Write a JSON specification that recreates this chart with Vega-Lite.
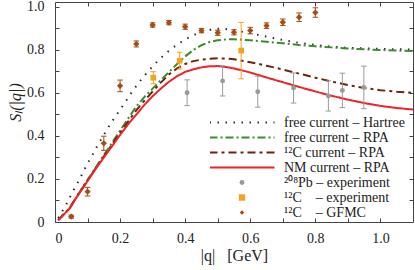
{
  "$schema": "https://vega.github.io/schema/vega-lite/v6.json",
  "width": 358,
  "height": 220,
  "autosize": {"type": "none"},
  "padding": {"left": 55, "top": 2, "right": 2, "bottom": 48},
  "background": "white",
  "config": {
    "view": {"stroke": "#444", "strokeWidth": 1},
    "axis": {
      "labelFont": "Liberation Serif", "labelFontSize": 14, "labelColor": "#222",
      "titleFont": "Liberation Serif", "titleFontSize": 16, "titleFontWeight": "normal", "titleColor": "#222",
      "domain": false, "grid": false, "tickColor": "#444", "tickSize": -4, "tickWidth": 1
    }
  },
  "datasets": {
    "lines": [
      {"series": "free current – Hartree", "q": 0.01, "S": 0.018},
      {"series": "free current – Hartree", "q": 0.02, "S": 0.045},
      {"series": "free current – Hartree", "q": 0.03, "S": 0.068},
      {"series": "free current – Hartree", "q": 0.04, "S": 0.097},
      {"series": "free current – Hartree", "q": 0.05, "S": 0.128},
      {"series": "free current – Hartree", "q": 0.06, "S": 0.156},
      {"series": "free current – Hartree", "q": 0.07, "S": 0.184},
      {"series": "free current – Hartree", "q": 0.08, "S": 0.213},
      {"series": "free current – Hartree", "q": 0.09, "S": 0.243},
      {"series": "free current – Hartree", "q": 0.10, "S": 0.272},
      {"series": "free current – Hartree", "q": 0.11, "S": 0.299},
      {"series": "free current – Hartree", "q": 0.12, "S": 0.325},
      {"series": "free current – Hartree", "q": 0.13, "S": 0.354},
      {"series": "free current – Hartree", "q": 0.14, "S": 0.38},
      {"series": "free current – Hartree", "q": 0.15, "S": 0.405},
      {"series": "free current – Hartree", "q": 0.16, "S": 0.43},
      {"series": "free current – Hartree", "q": 0.17, "S": 0.456},
      {"series": "free current – Hartree", "q": 0.18, "S": 0.478},
      {"series": "free current – Hartree", "q": 0.19, "S": 0.5},
      {"series": "free current – Hartree", "q": 0.20, "S": 0.522},
      {"series": "free current – Hartree", "q": 0.22, "S": 0.567},
      {"series": "free current – Hartree", "q": 0.24, "S": 0.613},
      {"series": "free current – Hartree", "q": 0.26, "S": 0.653},
      {"series": "free current – Hartree", "q": 0.28, "S": 0.69},
      {"series": "free current – Hartree", "q": 0.30, "S": 0.724},
      {"series": "free current – Hartree", "q": 0.32, "S": 0.755},
      {"series": "free current – Hartree", "q": 0.34, "S": 0.783},
      {"series": "free current – Hartree", "q": 0.36, "S": 0.808},
      {"series": "free current – Hartree", "q": 0.38, "S": 0.829},
      {"series": "free current – Hartree", "q": 0.40, "S": 0.849},
      {"series": "free current – Hartree", "q": 0.42, "S": 0.865},
      {"series": "free current – Hartree", "q": 0.44, "S": 0.878},
      {"series": "free current – Hartree", "q": 0.46, "S": 0.887},
      {"series": "free current – Hartree", "q": 0.48, "S": 0.895},
      {"series": "free current – Hartree", "q": 0.50, "S": 0.899},
      {"series": "free current – Hartree", "q": 0.52, "S": 0.898},
      {"series": "free current – Hartree", "q": 0.54, "S": 0.894},
      {"series": "free current – Hartree", "q": 0.57, "S": 0.886},
      {"series": "free current – Hartree", "q": 0.60, "S": 0.878},
      {"series": "free current – Hartree", "q": 0.64, "S": 0.865},
      {"series": "free current – Hartree", "q": 0.70, "S": 0.846},
      {"series": "free current – Hartree", "q": 0.75, "S": 0.833},
      {"series": "free current – Hartree", "q": 0.80, "S": 0.823},
      {"series": "free current – Hartree", "q": 0.85, "S": 0.815},
      {"series": "free current – Hartree", "q": 0.90, "S": 0.81},
      {"series": "free current – Hartree", "q": 0.95, "S": 0.807},
      {"series": "free current – Hartree", "q": 1.00, "S": 0.805},
      {"series": "free current – Hartree", "q": 1.05, "S": 0.803},
      {"series": "free current – Hartree", "q": 1.10, "S": 0.802},

      {"series": "free current – RPA", "q": 0.01, "S": 0.01},
      {"series": "free current – RPA", "q": 0.046, "S": 0.068},
      {"series": "free current – RPA", "q": 0.06, "S": 0.104},
      {"series": "free current – RPA", "q": 0.08, "S": 0.15},
      {"series": "free current – RPA", "q": 0.10, "S": 0.196},
      {"series": "free current – RPA", "q": 0.125, "S": 0.254},
      {"series": "free current – RPA", "q": 0.15, "S": 0.31},
      {"series": "free current – RPA", "q": 0.175, "S": 0.368},
      {"series": "free current – RPA", "q": 0.20, "S": 0.425},
      {"series": "free current – RPA", "q": 0.225, "S": 0.482},
      {"series": "free current – RPA", "q": 0.25, "S": 0.538},
      {"series": "free current – RPA", "q": 0.275, "S": 0.582},
      {"series": "free current – RPA", "q": 0.30, "S": 0.62},
      {"series": "free current – RPA", "q": 0.325, "S": 0.66},
      {"series": "free current – RPA", "q": 0.35, "S": 0.697},
      {"series": "free current – RPA", "q": 0.375, "S": 0.735},
      {"series": "free current – RPA", "q": 0.40, "S": 0.77},
      {"series": "free current – RPA", "q": 0.425, "S": 0.8},
      {"series": "free current – RPA", "q": 0.45, "S": 0.822},
      {"series": "free current – RPA", "q": 0.475, "S": 0.837},
      {"series": "free current – RPA", "q": 0.50, "S": 0.845},
      {"series": "free current – RPA", "q": 0.525, "S": 0.849},
      {"series": "free current – RPA", "q": 0.55, "S": 0.85},
      {"series": "free current – RPA", "q": 0.60, "S": 0.845},
      {"series": "free current – RPA", "q": 0.65, "S": 0.838},
      {"series": "free current – RPA", "q": 0.70, "S": 0.831},
      {"series": "free current – RPA", "q": 0.75, "S": 0.823},
      {"series": "free current – RPA", "q": 0.80, "S": 0.817},
      {"series": "free current – RPA", "q": 0.85, "S": 0.812},
      {"series": "free current – RPA", "q": 0.90, "S": 0.807},
      {"series": "free current – RPA", "q": 0.95, "S": 0.803},
      {"series": "free current – RPA", "q": 1.00, "S": 0.8},
      {"series": "free current – RPA", "q": 1.05, "S": 0.797},
      {"series": "free current – RPA", "q": 1.10, "S": 0.795},

      {"series": "¹²C current – RPA", "q": 0.01, "S": 0.009},
      {"series": "¹²C current – RPA", "q": 0.046, "S": 0.066},
      {"series": "¹²C current – RPA", "q": 0.06, "S": 0.102},
      {"series": "¹²C current – RPA", "q": 0.08, "S": 0.148},
      {"series": "¹²C current – RPA", "q": 0.10, "S": 0.193},
      {"series": "¹²C current – RPA", "q": 0.125, "S": 0.25},
      {"series": "¹²C current – RPA", "q": 0.15, "S": 0.305},
      {"series": "¹²C current – RPA", "q": 0.175, "S": 0.36},
      {"series": "¹²C current – RPA", "q": 0.20, "S": 0.415},
      {"series": "¹²C current – RPA", "q": 0.225, "S": 0.468},
      {"series": "¹²C current – RPA", "q": 0.25, "S": 0.52},
      {"series": "¹²C current – RPA", "q": 0.275, "S": 0.565},
      {"series": "¹²C current – RPA", "q": 0.30, "S": 0.607},
      {"series": "¹²C current – RPA", "q": 0.325, "S": 0.648},
      {"series": "¹²C current – RPA", "q": 0.35, "S": 0.686},
      {"series": "¹²C current – RPA", "q": 0.375, "S": 0.714},
      {"series": "¹²C current – RPA", "q": 0.40, "S": 0.735},
      {"series": "¹²C current – RPA", "q": 0.425, "S": 0.748},
      {"series": "¹²C current – RPA", "q": 0.45, "S": 0.755},
      {"series": "¹²C current – RPA", "q": 0.475, "S": 0.759},
      {"series": "¹²C current – RPA", "q": 0.50, "S": 0.761},
      {"series": "¹²C current – RPA", "q": 0.525, "S": 0.76},
      {"series": "¹²C current – RPA", "q": 0.55, "S": 0.757},
      {"series": "¹²C current – RPA", "q": 0.60, "S": 0.743},
      {"series": "¹²C current – RPA", "q": 0.65, "S": 0.727},
      {"series": "¹²C current – RPA", "q": 0.70, "S": 0.709},
      {"series": "¹²C current – RPA", "q": 0.75, "S": 0.69},
      {"series": "¹²C current – RPA", "q": 0.80, "S": 0.671},
      {"series": "¹²C current – RPA", "q": 0.85, "S": 0.653},
      {"series": "¹²C current – RPA", "q": 0.90, "S": 0.637},
      {"series": "¹²C current – RPA", "q": 0.95, "S": 0.623},
      {"series": "¹²C current – RPA", "q": 1.00, "S": 0.613},
      {"series": "¹²C current – RPA", "q": 1.05, "S": 0.606},
      {"series": "¹²C current – RPA", "q": 1.10, "S": 0.601},

      {"series": "NM current – RPA", "q": 0.01, "S": 0.008},
      {"series": "NM current – RPA", "q": 0.046, "S": 0.064},
      {"series": "NM current – RPA", "q": 0.06, "S": 0.1},
      {"series": "NM current – RPA", "q": 0.08, "S": 0.145},
      {"series": "NM current – RPA", "q": 0.10, "S": 0.19},
      {"series": "NM current – RPA", "q": 0.125, "S": 0.247},
      {"series": "NM current – RPA", "q": 0.15, "S": 0.3},
      {"series": "NM current – RPA", "q": 0.175, "S": 0.352},
      {"series": "NM current – RPA", "q": 0.20, "S": 0.405},
      {"series": "NM current – RPA", "q": 0.225, "S": 0.455},
      {"series": "NM current – RPA", "q": 0.25, "S": 0.5},
      {"series": "NM current – RPA", "q": 0.275, "S": 0.545},
      {"series": "NM current – RPA", "q": 0.30, "S": 0.585},
      {"series": "NM current – RPA", "q": 0.325, "S": 0.62},
      {"series": "NM current – RPA", "q": 0.35, "S": 0.652},
      {"series": "NM current – RPA", "q": 0.375, "S": 0.678},
      {"series": "NM current – RPA", "q": 0.40, "S": 0.698},
      {"series": "NM current – RPA", "q": 0.425, "S": 0.71},
      {"series": "NM current – RPA", "q": 0.45, "S": 0.719},
      {"series": "NM current – RPA", "q": 0.475, "S": 0.724},
      {"series": "NM current – RPA", "q": 0.50, "S": 0.725},
      {"series": "NM current – RPA", "q": 0.525, "S": 0.721},
      {"series": "NM current – RPA", "q": 0.55, "S": 0.714},
      {"series": "NM current – RPA", "q": 0.575, "S": 0.705},
      {"series": "NM current – RPA", "q": 0.60, "S": 0.695},
      {"series": "NM current – RPA", "q": 0.65, "S": 0.672},
      {"series": "NM current – RPA", "q": 0.70, "S": 0.65},
      {"series": "NM current – RPA", "q": 0.75, "S": 0.628},
      {"series": "NM current – RPA", "q": 0.80, "S": 0.607},
      {"series": "NM current – RPA", "q": 0.85, "S": 0.587},
      {"series": "NM current – RPA", "q": 0.90, "S": 0.569},
      {"series": "NM current – RPA", "q": 0.95, "S": 0.553},
      {"series": "NM current – RPA", "q": 1.00, "S": 0.54},
      {"series": "NM current – RPA", "q": 1.05, "S": 0.53},
      {"series": "NM current – RPA", "q": 1.10, "S": 0.523}
    ],
    "points": [
      {"series": "²⁰⁸Pb – experiment", "q": 0.406, "S": 0.601, "lo": 0.541, "hi": 0.661},
      {"series": "²⁰⁸Pb – experiment", "q": 0.515, "S": 0.656, "lo": 0.586, "hi": 0.726},
      {"series": "²⁰⁸Pb – experiment", "q": 0.623, "S": 0.606, "lo": 0.534, "hi": 0.678},
      {"series": "²⁰⁸Pb – experiment", "q": 0.733, "S": 0.623, "lo": 0.553, "hi": 0.693},
      {"series": "²⁰⁸Pb – experiment", "q": 0.84, "S": 0.586, "lo": 0.516, "hi": 0.656},
      {"series": "²⁰⁸Pb – experiment", "q": 0.883, "S": 0.612, "lo": 0.532, "hi": 0.692},
      {"series": "²⁰⁸Pb – experiment", "q": 0.949, "S": 0.626, "lo": 0.527, "hi": 0.725},
      {"series": "¹²C\u00a0\u00a0\u00a0\u00a0– experiment", "q": 0.302, "S": 0.671, "lo": 0.643, "hi": 0.699},
      {"series": "¹²C\u00a0\u00a0\u00a0\u00a0– experiment", "q": 0.383, "S": 0.75, "lo": 0.711, "hi": 0.789},
      {"series": "¹²C\u00a0\u00a0\u00a0\u00a0– experiment", "q": 0.572, "S": 0.797, "lo": 0.666, "hi": 0.928},
      {"series": "¹²C\u00a0\u00a0\u00a0\u00a0– GFMC", "q": 0.05, "S": 0.025, "lo": 0.018, "hi": 0.032},
      {"series": "¹²C\u00a0\u00a0\u00a0\u00a0– GFMC", "q": 0.1, "S": 0.141, "lo": 0.121, "hi": 0.161},
      {"series": "¹²C\u00a0\u00a0\u00a0\u00a0– GFMC", "q": 0.15, "S": 0.366, "lo": 0.333, "hi": 0.399},
      {"series": "¹²C\u00a0\u00a0\u00a0\u00a0– GFMC", "q": 0.2, "S": 0.633, "lo": 0.606, "hi": 0.66},
      {"series": "¹²C\u00a0\u00a0\u00a0\u00a0– GFMC", "q": 0.25, "S": 0.828, "lo": 0.814, "hi": 0.842},
      {"series": "¹²C\u00a0\u00a0\u00a0\u00a0– GFMC", "q": 0.3, "S": 0.916, "lo": 0.906, "hi": 0.926},
      {"series": "¹²C\u00a0\u00a0\u00a0\u00a0– GFMC", "q": 0.35, "S": 0.927, "lo": 0.917, "hi": 0.937},
      {"series": "¹²C\u00a0\u00a0\u00a0\u00a0– GFMC", "q": 0.4, "S": 0.908, "lo": 0.896, "hi": 0.92},
      {"series": "¹²C\u00a0\u00a0\u00a0\u00a0– GFMC", "q": 0.45, "S": 0.89, "lo": 0.88, "hi": 0.9},
      {"series": "¹²C\u00a0\u00a0\u00a0\u00a0– GFMC", "q": 0.5, "S": 0.88, "lo": 0.868, "hi": 0.892},
      {"series": "¹²C\u00a0\u00a0\u00a0\u00a0– GFMC", "q": 0.55, "S": 0.882, "lo": 0.87, "hi": 0.894},
      {"series": "¹²C\u00a0\u00a0\u00a0\u00a0– GFMC", "q": 0.6, "S": 0.89, "lo": 0.875, "hi": 0.905},
      {"series": "¹²C\u00a0\u00a0\u00a0\u00a0– GFMC", "q": 0.65, "S": 0.913, "lo": 0.9, "hi": 0.926},
      {"series": "¹²C\u00a0\u00a0\u00a0\u00a0– GFMC", "q": 0.7, "S": 0.929, "lo": 0.914, "hi": 0.944},
      {"series": "¹²C\u00a0\u00a0\u00a0\u00a0– GFMC", "q": 0.75, "S": 0.952, "lo": 0.932, "hi": 0.972},
      {"series": "¹²C\u00a0\u00a0\u00a0\u00a0– GFMC", "q": 0.8, "S": 0.974, "lo": 0.952, "hi": 0.996}
    ]
  },
  "resolve": {"axis": {"x": "independent", "y": "independent"}},
  "layer": [
    {
      "data": {"name": "lines"},
      "mark": {"type": "line", "strokeWidth": 2, "clip": true},
      "encoding": {
        "x": {"field": "q", "type": "quantitative",
          "scale": {"domain": [0, 1.1], "nice": false, "zero": false},
          "axis": {"orient": "bottom", "values": [0, 0.1, 0.2, 0.3, 0.4, 0.5, 0.6, 0.7, 0.8, 0.9, 1.0],
            "labelExpr": "round(datum.value*10) % 2 == 0 ? (datum.value == 0 ? '0' : format(datum.value, '.1f')) : ''",
            "labelPadding": 13, "title": "|q|\u00a0\u00a0\u00a0[GeV]", "titlePadding": 2}},
        "y": {"field": "S", "type": "quantitative",
          "scale": {"domain": [0, 1.023], "nice": false, "zero": false},
          "axis": {"orient": "left", "values": [0, 0.1, 0.2, 0.3, 0.4, 0.5, 0.6, 0.7, 0.8, 0.9, 1.0],
            "labelExpr": "round(datum.value*10) % 2 == 0 ? (datum.value == 0 ? '0' : format(datum.value, '.1f')) : ''",
            "labelPadding": 15, "title": "Sₗ(|q|)", "titleFontStyle": "italic", "titlePadding": 3, "titleY": 100}},
        "color": {"field": "series", "type": "nominal",
          "scale": {
            "domain": ["free current – Hartree", "free current – RPA", "¹²C current – RPA", "NM current – RPA", "²⁰⁸Pb – experiment", "¹²C\u00a0\u00a0\u00a0\u00a0– experiment", "¹²C\u00a0\u00a0\u00a0\u00a0– GFMC"],
            "range": ["#2a2a2a", "#3d8b2f", "#6b2410", "#ee2229", "#9a9a9a", "#f6a21f", "#a24e16"]
          },
          "legend": {
            "orient": "none", "legendX": 155, "legendY": 113, "title": null,
            "symbolType": "stroke", "symbolSize": 169, "symbolStrokeWidth": 2,
            "clipHeight": 15, "rowPadding": 0, "symbolOffset": 25, "labelOffset": 35, "padding": 0,
            "labelFont": "Liberation Serif", "labelFontSize": 14, "labelColor": "#222",
            "encode": {"symbols": {"update": {
              "shape": {"signal": "datum.index < 4 ? 'M-5,0H5' : datum.index == 4 ? 'circle' : datum.index == 5 ? 'square' : 'diamond'"},
              "size": {"signal": "datum.index < 4 ? 169 : datum.index == 5 ? 40 : datum.index == 4 ? 24 : 20"},
              "strokeDash": {"signal": "datum.index == 0 ? [1.5, 6.5] : datum.index == 1 ? [8, 3, 2, 3] : datum.index == 2 ? [8, 4, 3, 4] : [1, 0]"},
              "strokeWidth": {"signal": "datum.index < 4 ? 2 : 0"},
              "fill": {"signal": "datum.index < 4 ? 'transparent' : scale('color', datum.value)"},
              "stroke": {"signal": "scale('color', datum.value)"},
              "opacity": {"value": 1}
            }}}
          }},
        "strokeDash": {"field": "series", "type": "nominal", "legend": null,
          "scale": {"domain": ["free current – Hartree", "free current – RPA", "¹²C current – RPA", "NM current – RPA"],
            "range": [[1.5, 6.5], [8, 3, 2, 3], [8, 4, 3, 4], [1, 0]]}}
      }
    },
    {
      "data": {"name": "points"},
      "mark": {"type": "rule", "strokeWidth": 1},
      "encoding": {
        "x": {"field": "q", "type": "quantitative", "axis": null},
        "y": {"field": "lo", "type": "quantitative", "axis": null},
        "y2": {"field": "hi"},
        "color": {"field": "series", "type": "nominal"}
      }
    },
    {
      "data": {"name": "points"},
      "mark": {"type": "point", "shape": "stroke", "size": 30, "strokeWidth": 1, "opacity": 1},
      "encoding": {
        "x": {"field": "q", "type": "quantitative", "axis": null},
        "y": {"field": "lo", "type": "quantitative", "axis": null},
        "color": {"field": "series", "type": "nominal"}
      }
    },
    {
      "data": {"name": "points"},
      "mark": {"type": "point", "shape": "stroke", "size": 30, "strokeWidth": 1, "opacity": 1},
      "encoding": {
        "x": {"field": "q", "type": "quantitative", "axis": null},
        "y": {"field": "hi", "type": "quantitative", "axis": null},
        "color": {"field": "series", "type": "nominal"}
      }
    },
    {
      "data": {"name": "points"},
      "mark": {"type": "point", "filled": true, "opacity": 1},
      "encoding": {
        "x": {"field": "q", "type": "quantitative",
          "axis": {"orient": "top", "values": [0.1, 0.2, 0.3, 0.4, 0.5, 0.6, 0.7, 0.8, 0.9, 1.0], "labels": false, "title": null}},
        "y": {"field": "S", "type": "quantitative",
          "axis": {"orient": "right", "values": [0.1, 0.2, 0.3, 0.4, 0.5, 0.6, 0.7, 0.8, 0.9, 1.0], "labels": false, "title": null}},
        "color": {"field": "series", "type": "nominal"},
        "shape": {"field": "series", "type": "nominal", "legend": null,
          "scale": {"domain": ["²⁰⁸Pb – experiment", "¹²C\u00a0\u00a0\u00a0\u00a0– experiment", "¹²C\u00a0\u00a0\u00a0\u00a0– GFMC"], "range": ["circle", "square", "diamond"]}},
        "size": {"field": "series", "type": "nominal", "legend": null,
          "scale": {"domain": ["²⁰⁸Pb – experiment", "¹²C\u00a0\u00a0\u00a0\u00a0– experiment", "¹²C\u00a0\u00a0\u00a0\u00a0– GFMC"], "range": [24, 40, 18]}}
      }
    }
  ]
}
